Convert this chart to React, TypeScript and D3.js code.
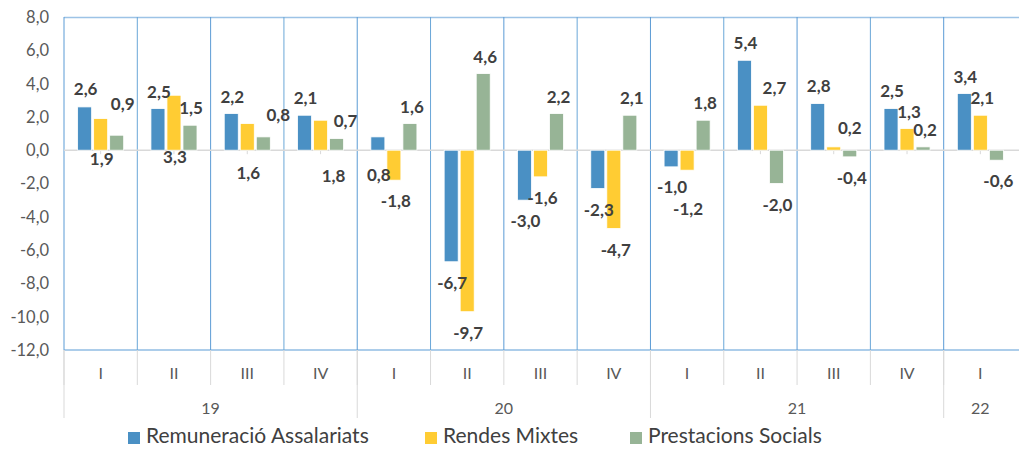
import React from "react";
import * as d3 from "d3";

// quarters on the axis, grouped by year below
const quarters = ["I", "II", "III", "IV", "I", "II", "III", "IV", "I", "II", "III", "IV", "I"];
const years = ["19", "20", "21", "22"];
const yearSpans = [4, 4, 4, 1];

const seriesNames = ["Remuneració Assalariats", "Rendes Mixtes", "Prestacions Socials"];
const remuneracio = [2.6, 2.5, 2.2, 2.1, 0.8, -6.7, -3.0, -2.3, -1.0, 5.4, 2.8, 2.5, 3.4];
const rendesMixtes = [1.9, 3.3, 1.6, 1.8, -1.8, -9.7, -1.6, -4.7, -1.2, 2.7, 0.2, 1.3, 2.1];
const prestacions = [0.9, 1.5, 0.8, 0.7, 1.6, 4.6, 2.2, 2.1, 1.8, -2.0, -0.4, 0.2, -0.6];

const yTicks = [8, 6, 4, 2, 0, -2, -4, -6, -8, -10, -12];

// hand-placed data labels in the original, kept as pixel nudges from default spot
const labelNudge = [
  [[0, -1], [0, 0], [0, 0], [0, 0], [0, 55], [0, 0], [0, 0], [0, 0], [0, -1], [0, 0], [0, -1], [0, -1], [0, 0]],
  [[0, 57], [0, 79], [0, 66], [12, 73], [1, 0], [0, 0], [1, 0], [1, 0], [0, 18], [13, 0], [15, -2], [1, 0], [1, 0]],
  [[5, -14], [0, 0], [14, -5], [8, -1], [1, 0], [1, 0], [1, 0], [1, 0], [1, 0], [0, 0], [1, 0], [1, 0], [1, 0]],
];

const colors = ["#4a90c4", "#ffcc33", "#97b496"];
const font = "Lato, 'Open Sans', sans-serif";

const W = 1019;
const H = 449;
const left = 64;
const right = 1017;
const top = 17;
const bottom = 350;

const locale = d3.formatLocale({ decimal: ",", thousands: ".", grouping: [3], currency: ["", "€"], minus: "-" });
const fmt = locale.format(".1f");

export default function App() {
  const series = [remuneracio, rendesMixtes, prestacions];
  const idx = d3.range(quarters.length);

  const x = d3.scaleBand<number>().domain(idx).range([left, right]).padding(0);
  const xs = d3
    .scaleBand<number>()
    .domain(d3.range(series.length))
    .range([0, x.bandwidth()])
    .paddingInner(0.125)
    .paddingOuter(0.85);
  const y = d3.scaleLinear().domain([-12, 8]).range([bottom, top]);

  // year group boundaries
  const groupEdges = [0, ...d3.cumsum(yearSpans)];

  const legendX = [128, 425, 630];

  return (
    <svg width={W} height={H} style={{ position: "absolute", left: 0, top: 0, background: "#fff" }}>
      {/* plot frame */}
      <line x1={left} x2={right + 2} y1={top + 0.5} y2={top + 0.5} stroke="#9dc3e6" strokeWidth={1.5} />
      <line x1={left} x2={right + 2} y1={bottom} y2={bottom} stroke="#5b9bd5" strokeWidth={1.2} />
      {idx.map((i) => (
        <line
          key={"v" + i}
          x1={x(i)!}
          x2={x(i)!}
          y1={top}
          y2={bottom}
          stroke={i % 2 ? "#6aa7d8" : "#5b9bd5"}
          strokeWidth={1}
        />
      ))}

      {/* zero line with ticks at category centres */}
      <line x1={left} x2={right + 2} y1={y(0)} y2={y(0)} stroke="#d9d9d9" strokeWidth={1.5} />
      {idx.map((i) => (
        <line
          key={"t" + i}
          x1={x(i)! + x.bandwidth() / 2}
          x2={x(i)! + x.bandwidth() / 2}
          y1={y(0)}
          y2={y(0) + 4}
          stroke="#d9d9d9"
          strokeWidth={1}
        />
      ))}

      {/* y axis labels */}
      {yTicks.map((t) => (
        <text
          key={"y" + t}
          x={49}
          y={y(t)}
          dy="0.36em"
          textAnchor="end"
          fontFamily={font}
          fontSize={16.5}
          fill="#595959"
        >
          {fmt(t)}
        </text>
      ))}

      {/* bars */}
      {series.map((vals, s) =>
        vals.map((v, i) => (
          <rect
            key={"b" + s + "-" + i}
            x={x(i)! + xs(s)!}
            y={Math.min(y(v), y(0))}
            width={xs.bandwidth()}
            height={Math.abs(y(v) - y(0))}
            fill={colors[s]}
            stroke="#fff"
            strokeWidth={0.8}
          />
        ))
      )}

      {/* data labels */}
      {series.map((vals, s) =>
        vals.map((v, i) => {
          const [dx, dy] = labelNudge[s][i];
          const cx = x(i)! + xs(s)! + xs.bandwidth() / 2 + 1 + dx;
          const cy = y(v) + (v >= 0 ? -17 : 21) + dy;
          return (
            <text
              key={"l" + s + "-" + i}
              x={cx}
              y={cy}
              dy="0.36em"
              textAnchor="middle"
              fontFamily={font}
              fontWeight="bold"
              fontSize={17}
              fill="#404040"
            >
              {fmt(v)}
            </text>
          );
        })
      )}

      {/* quarter labels and separators */}
      {idx.map((i) => (
        <g key={"q" + i}>
          <line x1={x(i)!} x2={x(i)!} y1={bottom} y2={385} stroke="#d9d9d9" strokeWidth={1} />
          <text
            x={x(i)! + x.bandwidth() / 2}
            y={373}
            dy="0.36em"
            textAnchor="middle"
            fontFamily={font}
            fontSize={16}
            fill="#595959"
          >
            {quarters[i]}
          </text>
        </g>
      ))}

      {/* year labels */}
      {years.map((yr, k) => {
        const x0 = x(groupEdges[k])!;
        const x1 = groupEdges[k + 1] < quarters.length ? x(groupEdges[k + 1])! : right;
        return (
          <g key={"yr" + yr}>
            <line x1={x0} x2={x0} y1={bottom} y2={418} stroke="#d9d9d9" strokeWidth={1} />
            <text
              x={(x0 + x1) / 2}
              y={408}
              dy="0.36em"
              textAnchor="middle"
              fontFamily={font}
              fontSize={16}
              fill="#595959"
            >
              {yr}
            </text>
          </g>
        );
      })}

      {/* legend */}
      {seriesNames.map((name, s) => (
        <g key={"lg" + s} transform={`translate(${legendX[s]},0)`}>
          <rect x={0} y={432} width={12} height={12} fill={colors[s]} />
          <text x={18} y={443} fontFamily={font} fontSize={21} fill="#404040">
            {name}
          </text>
        </g>
      ))}
    </svg>
  );
}
